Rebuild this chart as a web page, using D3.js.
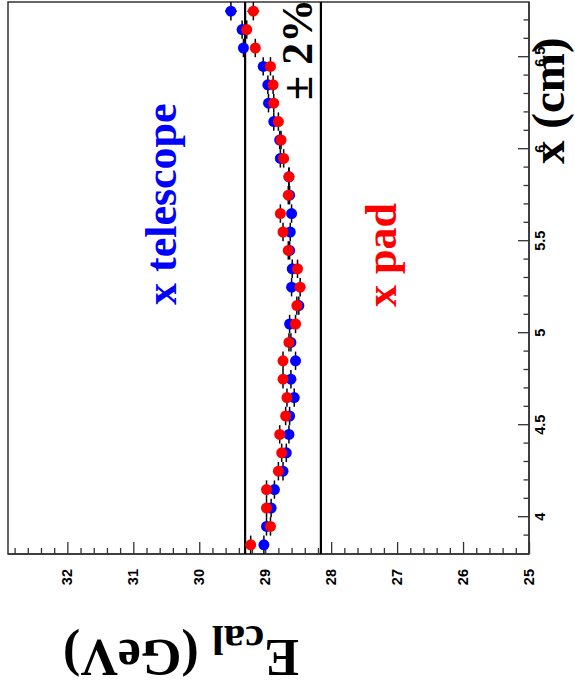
<!DOCTYPE html>
<html>
<head>
<meta charset="utf-8">
<script src="https://cdn.jsdelivr.net/npm/d3@7"></script>
<style>
  html, body { margin: 0; padding: 0; background: #fff; }
  svg { display: block; }
</style>
</head>
<body>
<svg id="chart" width="575" height="685"></svg>
<script>
// Beam position along x (cm), bin centres
const positions = [3.85, 3.95, 4.05, 4.15, 4.25, 4.35, 4.45, 4.55, 4.65, 4.75,
                   4.85, 4.95, 5.05, 5.15, 5.25, 5.35, 5.45, 5.55, 5.65, 5.75,
                   5.85, 5.95, 6.05, 6.15, 6.25, 6.35, 6.45, 6.55, 6.65, 6.75];
// Calorimeter energy (GeV), position from the telescope
const telescopeE = [29.02, 28.98, 28.91, 28.86, 28.73, 28.68, 28.64, 28.63, 28.56, 28.61,
                    28.54, 28.61, 28.63, 28.49, 28.60, 28.59, 28.63, 28.62, 28.60, 28.63,
                    28.64, 28.77, 28.78, 28.87, 28.95, 28.96, 29.03, 29.33, 29.35, 29.52];
const telescopeErr = [0.05, 0.04, 0.04, 0.04, 0.04, 0.04, 0.04, 0.04, 0.04, 0.04,
                      0.04, 0.04, 0.04, 0.04, 0.04, 0.04, 0.04, 0.04, 0.04, 0.04,
                      0.04, 0.04, 0.04, 0.04, 0.04, 0.05, 0.05, 0.06, 0.07, 0.09];
// Calorimeter energy (GeV), position from the pad
const padE = [29.22, 28.92, 28.98, 28.98, 28.80, 28.75, 28.78, 28.69, 28.67, 28.73,
              28.73, 28.64, 28.54, 28.52, 28.47, 28.51, 28.65, 28.73, 28.77, 28.65,
              28.64, 28.72, 28.76, 28.80, 28.87, 28.88, 28.92, 29.15, 29.28, 29.18];
const padErr = [0.06, 0.04, 0.04, 0.04, 0.04, 0.04, 0.04, 0.04, 0.04, 0.04,
                0.04, 0.04, 0.04, 0.04, 0.04, 0.04, 0.04, 0.04, 0.04, 0.04,
                0.04, 0.04, 0.04, 0.04, 0.04, 0.05, 0.05, 0.06, 0.07, 0.09];
const binHalfWidth = 0.05;

// Reference band: mean response and +-2 %
const meanE = 28.73;
const bandFraction = 0.02;

// Axis ticks and labels
const xMajorTicks = [4, 4.5, 5, 5.5, 6, 6.5];
const xTickLabels = ["4", "4.5", "5", "5.5", "6", "6.5"];
const eMajorTicks = [25, 26, 27, 28, 29, 30, 31, 32];
const eTickLabels = ["25", "26", "27", "28", "29", "30", "31", "32"];
const xDomain = [3.8, 6.8];
const eDomain = [25, 32.9];

// The canvas is laid out landscape (685 x 575) and turned a quarter turn.
const W = 685, H = 575;
const svg = d3.select("#chart");
const root = svg.append("g").attr("transform", `translate(0,${W}) rotate(-90)`);

const frame = { left: 131, right: 683, top: 8, bottom: 529 };
const x = d3.scaleLinear().domain(xDomain).range([frame.left, frame.right]);
const y = d3.scaleLinear().domain(eDomain).range([frame.bottom, frame.top]);

const axisColor = "#333";
const labelFont = "'Liberation Sans', Arial, Helvetica, sans-serif";
const titleFont = "'Liberation Serif', 'Times New Roman', Times, serif";

// Frame
root.append("rect")
  .attr("x", frame.left).attr("y", frame.top)
  .attr("width", frame.right - frame.left).attr("height", frame.bottom - frame.top)
  .attr("fill", "none").attr("stroke", axisColor).attr("stroke-width", 1.5);

// Minor ticks
const xMinor = d3.range(3.9, 6.8, 0.1).map(v => +v.toFixed(2)).filter(v => !xMajorTicks.includes(v));
const eMinor = d3.range(25.2, 32.9, 0.2).map(v => +v.toFixed(2)).filter(v => !eMajorTicks.includes(v));

function styleAxis(g) {
  g.select(".domain").remove();
  g.selectAll(".tick line").attr("stroke", axisColor).attr("stroke-width", 1.3);
}

root.append("g")
  .attr("transform", `translate(0,${frame.bottom})`)
  .call(d3.axisBottom(x).tickValues(xMinor).tickSize(-5.5).tickFormat(""))
  .call(styleAxis);

root.append("g")
  .attr("transform", `translate(0,${frame.bottom})`)
  .call(d3.axisBottom(x).tickValues(xMajorTicks).tickSize(-11).tickPadding(6)
        .tickFormat((d, i) => xTickLabels[i]))
  .call(styleAxis)
  .call(g => g.selectAll("text")
    .attr("font-family", labelFont).attr("font-weight", "bold")
    .attr("font-size", 14.5).attr("fill", "#000"));

root.append("g")
  .attr("transform", `translate(${frame.left},0)`)
  .call(d3.axisLeft(y).tickValues(eMinor).tickSize(-6).tickFormat(""))
  .call(styleAxis);

root.append("g")
  .attr("transform", `translate(${frame.left},0)`)
  .call(d3.axisLeft(y).tickValues(eMajorTicks).tickSize(-12).tickPadding(15)
        .tickFormat((d, i) => eTickLabels[i]))
  .call(styleAxis)
  .call(g => g.selectAll("text")
    .attr("font-family", labelFont).attr("font-weight", "bold")
    .attr("font-size", 14.5).attr("fill", "#000"));

// Axis lines
root.append("line")
  .attr("x1", frame.left).attr("x2", frame.right)
  .attr("y1", frame.bottom).attr("y2", frame.bottom)
  .attr("stroke", axisColor).attr("stroke-width", 1.5);
root.append("line")
  .attr("x1", frame.left).attr("x2", frame.left)
  .attr("y1", frame.top).attr("y2", frame.bottom)
  .attr("stroke", axisColor).attr("stroke-width", 1.5);

// +-2 % band lines
[meanE * (1 + bandFraction), meanE * (1 - bandFraction)].forEach(v => {
  root.append("line")
    .attr("x1", frame.left).attr("x2", frame.right)
    .attr("y1", y(v)).attr("y2", y(v))
    .attr("stroke", "#000").attr("stroke-width", 2.2);
});

// Data series with error bars
function drawSeries(values, errors, color) {
  const pts = positions.map((p, i) => ({ p, e: values[i], err: errors[i] }));
  const g = root.append("g");
  g.selectAll("line.ex").data(pts).join("line")
    .attr("x1", d => x(d.p - binHalfWidth)).attr("x2", d => x(d.p + binHalfWidth))
    .attr("y1", d => y(d.e)).attr("y2", d => y(d.e))
    .attr("stroke", "#000").attr("stroke-width", 1.5);
  g.selectAll("line.ey").data(pts).join("line")
    .attr("x1", d => x(d.p)).attr("x2", d => x(d.p))
    .attr("y1", d => y(d.e - d.err)).attr("y2", d => y(d.e + d.err))
    .attr("stroke", "#000").attr("stroke-width", 1.5);
  g.selectAll("circle").data(pts).join("circle")
    .attr("cx", d => x(d.p)).attr("cy", d => y(d.e))
    .attr("r", 5.5).attr("fill", color);
}
drawSeries(telescopeE, telescopeErr, "#0000ff");
drawSeries(padE, padErr, "#ff0000");

// Annotations
root.append("text")
  .attr("x", 380).attr("y", 176)
  .attr("font-family", titleFont).attr("font-weight", "bold").attr("font-size", 44)
  .attr("fill", "#0000ff").text("x telescope");
root.append("text")
  .attr("x", 378).attr("y", 396)
  .attr("font-family", titleFont).attr("font-weight", "bold").attr("font-size", 44)
  .attr("fill", "#ff0000").text("x pad");
root.append("text")
  .attr("x", 585).attr("y", 312)
  .attr("font-family", titleFont).attr("font-weight", "bold").attr("font-size", 44)
  .attr("fill", "#000").text("\u00b1 2%");

// Axis titles
root.append("text")
  .attr("x", 521).attr("y", 564)
  .attr("font-family", titleFont).attr("font-weight", "bold").attr("font-size", 47)
  .attr("fill", "#000").text("x (cm)");

const eTitle = root.append("text")
  .attr("transform", "translate(45,63) rotate(-90)")
  .attr("text-anchor", "end")
  .attr("font-family", titleFont).attr("font-weight", "bold").attr("font-size", 52)
  .attr("fill", "#000");
eTitle.append("tspan").text("E");
eTitle.append("tspan").attr("font-size", 43).attr("dy", 14).text("cal");
eTitle.append("tspan").attr("dy", -14).text(" (GeV)");
</script>
</body>
</html>
